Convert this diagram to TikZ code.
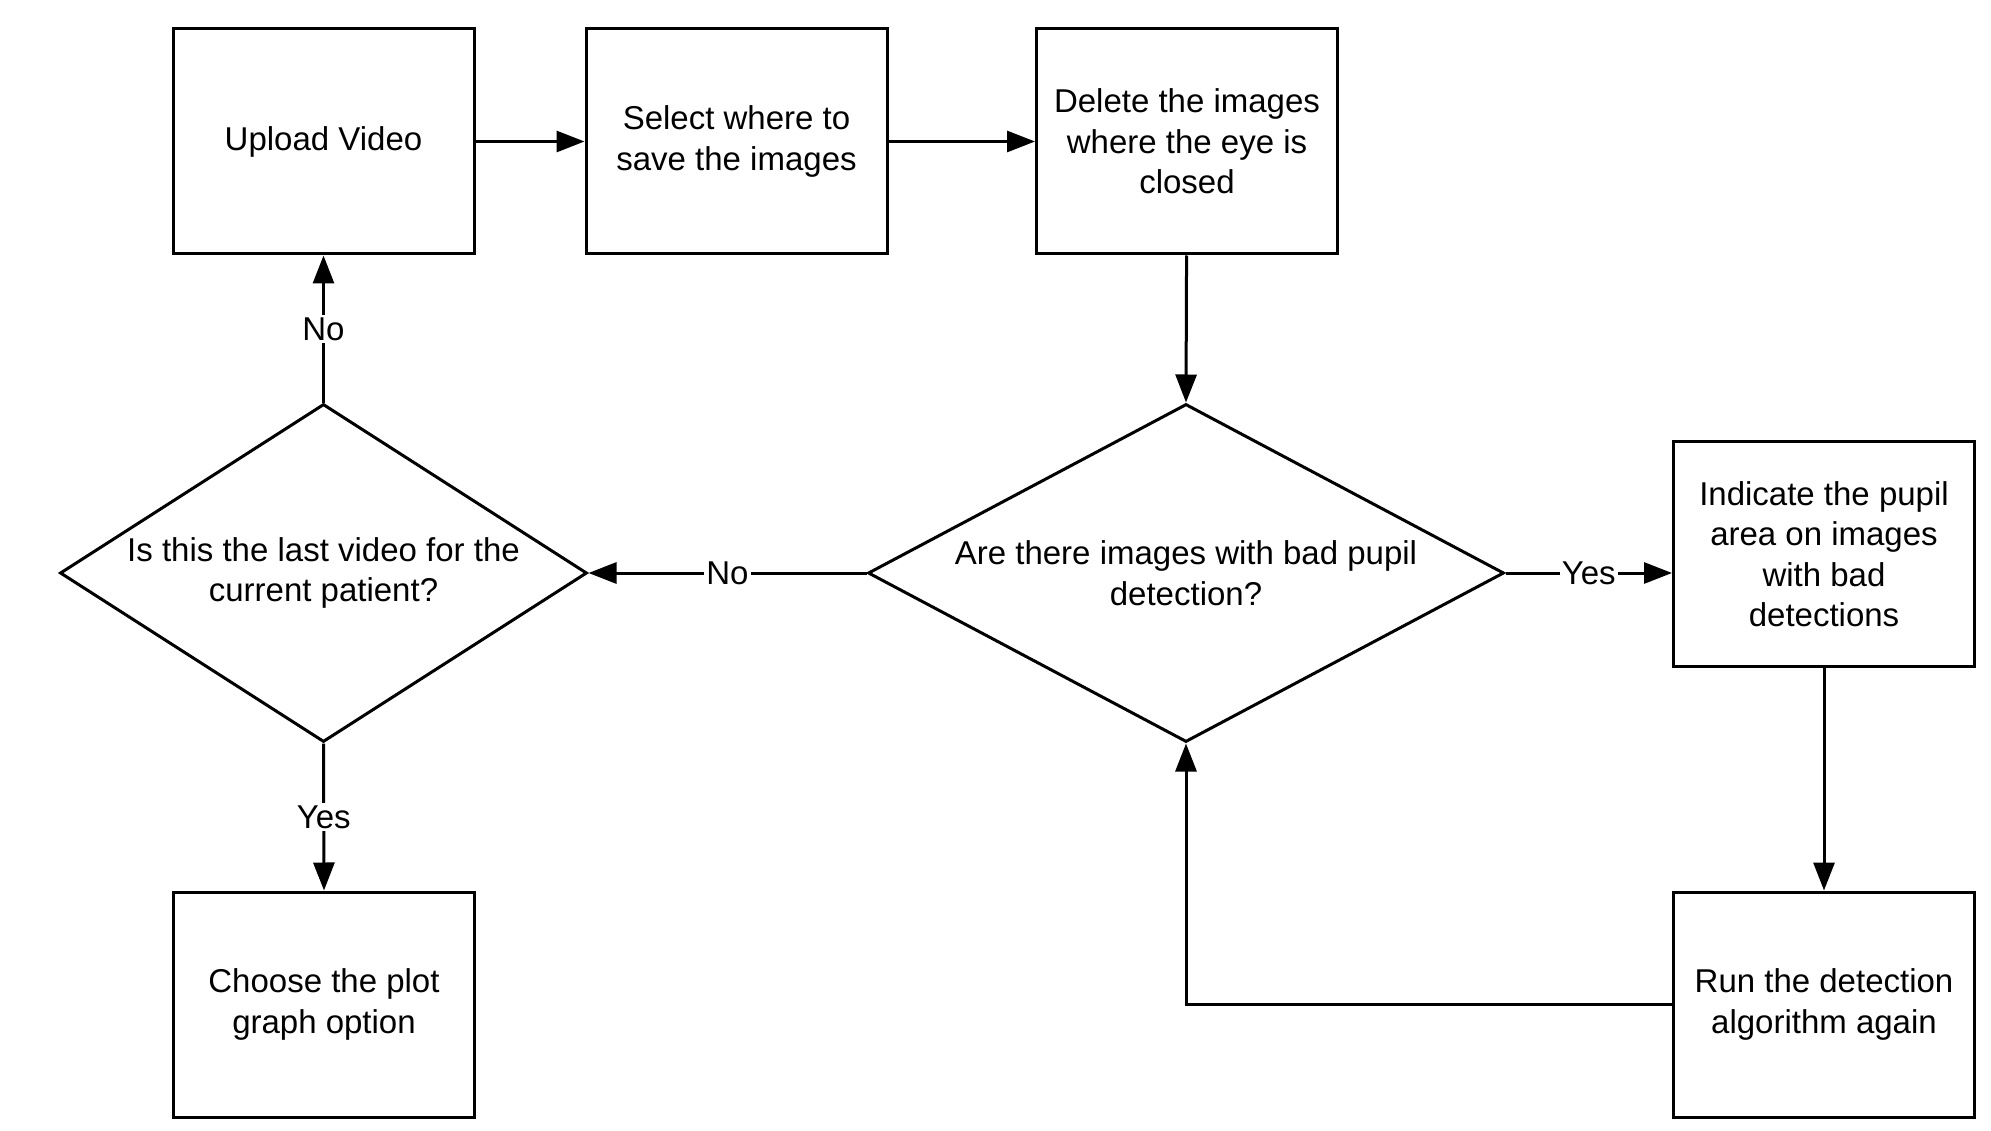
\documentclass[tikz,border=0pt]{standalone}
\usepackage{fontspec}
\setmainfont{Liberation Sans}
\usetikzlibrary{arrows.meta,shapes.geometric}
\tikzset{
  x=1pt, y=-1pt,
  every node/.style={font=\fontsize{33}{40.5}\selectfont},
  procbox/.style={draw, line width=3pt, minimum width=301pt, minimum height=225pt, inner sep=0pt, align=center},
  decision/.style={draw, diamond, line width=3pt, inner sep=0pt, minimum width=#1, minimum height=338pt},
  flow/.style={line width=3pt, -{Triangle[length=28pt,width=21pt]}},
  lbl/.style={fill=white, inner sep=2pt}
}
\begin{document}
\begin{tikzpicture}
\useasboundingbox (0,0) rectangle (1991,1131);
\node[procbox] (upload) at (323.5,141.5) {Upload Video};
\node[procbox] (select) at (736.5,141.5) {Select where to\\save the images};
\node[procbox] (delete) at (1187,141.5) {Delete the images\\where the eye is\\closed};
\node[decision=636pt, label={[align=center]center:Are there images with bad pupil\\detection?}] (dr) at (1186,573) {};
\node[decision=527pt, label={[align=center]center:Is this the last video for the\\current patient?}] (dl) at (323.5,573) {};
\node[procbox] (indicate) at (1824,554) {Indicate the pupil\\area on images\\with bad\\detections};
\node[procbox] (run) at (1824,1004.5) {Run the detection\\algorithm again};
\node[procbox] (choose) at (324,1004.5) {Choose the plot\\graph option};

\draw[flow] (upload) -- (select);
\draw[flow] (select) -- (delete);
\draw[flow] (delete) -- (dr.north);
\draw[flow] (dr.east) -- node[lbl] (lyes1) {Yes} (indicate.west |- dr.east);
\draw[flow] (dr.west) -- node[lbl] (lno1) {No} (dl.east);
\draw[flow] (dl.north) -- node[lbl] (lno2) {No} (upload.south);
\draw[flow] (dl.south) -- node[lbl] (lyes2) {Yes} (choose.north);
\draw[flow] (indicate) -- (run);
\draw[flow] (run.west) -| (dr.south);
\end{tikzpicture}
\end{document}
